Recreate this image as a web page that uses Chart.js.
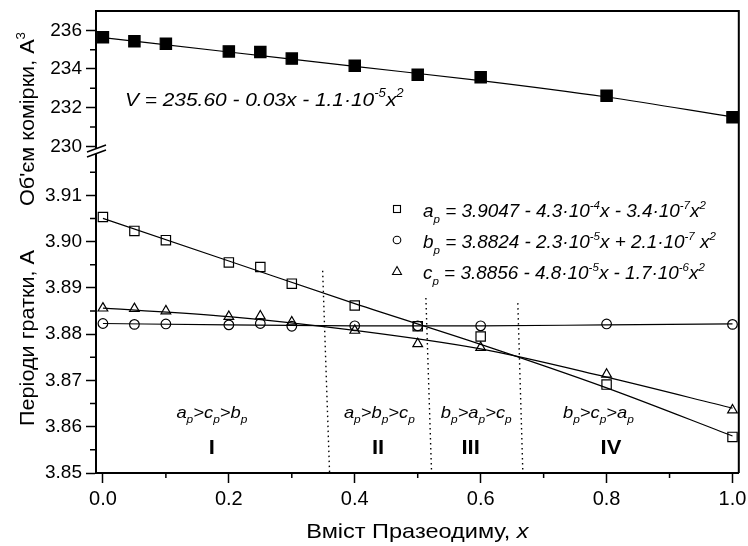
<!DOCTYPE html>
<html>
<head>
<meta charset="utf-8">
<script src="https://cdn.jsdelivr.net/npm/chart.js@4/dist/chart.umd.min.js"></script>
<style>
  html, body { margin: 0; padding: 0; background: #fff; }
</style>
</head>
<body>
<canvas id="myChart" width="748" height="546"></canvas>
<script>
// Склад (x) та виміряні значення
const xVals = [0, 0.05, 0.1, 0.2, 0.25, 0.3, 0.4, 0.5, 0.6, 0.8, 1.0];
const volume = [235.64, 235.43, 235.31, 234.91, 234.88, 234.54, 234.17, 233.70, 233.57, 232.62, 231.50];
const aP = [3.9053, 3.9023, 3.9003, 3.8955, 3.8945, 3.8909, 3.8862, 3.8817, 3.8795, 3.8691, 3.8578];
const bP = [3.8823, 3.8821, 3.8822, 3.8820, 3.8823, 3.8817, 3.8818, 3.8818, 3.8818, 3.8822, 3.8821];
const cP = [3.8856, 3.8855, 3.8850, 3.8838, 3.8839, 3.8826, 3.8808, 3.8779, 3.8771, 3.8713, 3.8636];

// Апроксимаційні криві
const fitX = [0, 0.2, 0.4, 0.6, 0.8, 1.0];
const fitV = [235.62, 234.88, 234.13, 233.40, 232.55, 231.52];
const fitA = [3.9050, 3.8958, 3.8866, 3.8778, 3.8684, 3.8580];
const fitB = [3.8823, 3.8820, 3.8818, 3.8818, 3.8820, 3.8822];
const fitC = [3.8856, 3.8838, 3.8808, 3.8768, 3.8707, 3.8640];

// Межі областей (пунктир)
const boundTopX = [0.349, 0.513, 0.659];
const boundTopY = [3.8937, 3.8878, 3.8867];
const boundBotX = [0.360, 0.522, 0.667];

// Області
const regionNames = ['I', 'II', 'III', 'IV'];
const regionOrder = [['a', 'c', 'b'], ['a', 'b', 'c'], ['b', 'a', 'c'], ['b', 'c', 'a']];

// Підписи осей
const xTicks = [0, 0.2, 0.4, 0.6, 0.8, 1.0];
const xMinor = [0.1, 0.3, 0.5, 0.7, 0.9];
const vTicks = [230, 232, 234, 236];
const vMinor = [231, 233, 235];
const pTicks = [3.85, 3.86, 3.87, 3.88, 3.89, 3.90, 3.91];
const pMinor = [3.855, 3.865, 3.875, 3.885, 3.895, 3.905, 3.915];

const FAM = '"Liberation Sans", Arial, sans-serif';

const pts = ys => xVals.map((x, i) => ({ x: x, y: ys[i] }));
const fitPts = ys => fitX.map((x, i) => ({ x: x, y: ys[i] }));

function fitLine(ys, axis) {
    return {
        data: fitPts(ys), yAxisID: axis, showLine: true, pointRadius: 0,
        borderColor: '#000', borderWidth: 1.2, tension: 0.4, cubicInterpolationMode: 'monotone'
    };
}

function markers(ys, axis, style, r, fill) {
    return {
        data: pts(ys), yAxisID: axis, showLine: false, pointStyle: style, pointRadius: r,
        borderColor: '#000', pointBorderWidth: 1.2, backgroundColor: fill
    };
}

const datasets = [
    fitLine(fitV, 'yTop'),
    fitLine(fitA, 'yBot'),
    fitLine(fitB, 'yBot'),
    fitLine(fitC, 'yBot'),
    markers(volume, 'yTop', 'rect', 8, '#000'),
    markers(aP, 'yBot', 'rect', 6.6, 'rgba(0,0,0,0)'),
    markers(bP, 'yBot', 'circle', 4.8, 'rgba(0,0,0,0)'),
    markers(cP, 'yBot', 'triangle', 5.6, 'rgba(0,0,0,0)')
];

boundTopX.forEach((x, i) => {
    datasets.push({
        data: [{ x: x, y: boundTopY[i] }, { x: boundBotX[i], y: 3.85 }],
        yAxisID: 'yBot', showLine: true, pointRadius: 0,
        borderColor: '#000', borderWidth: 1.4, borderDash: [1.5, 3.5]
    });
});

// Текст із індексами: parts = [[текст, 'n'|'sub'|'sup', стиль]]
function drawRich(c, parts, x, y, size, style, align, stretch) {
    const k = stretch || 1;
    const small = Math.round(size * 0.62);
    const fontOf = p => (p[2] || style) + ' ' + (p[1] === 'n' ? size : small) + 'px ' + FAM;
    let w = 0;
    parts.forEach(p => { c.font = fontOf(p); w += c.measureText(p[0]).width; });
    c.save();
    c.translate(x, y);
    c.scale(k, 1);
    let cx = align === 'center' ? -w / 2 : 0;
    c.textAlign = 'left';
    c.textBaseline = 'alphabetic';
    parts.forEach(p => {
        c.font = fontOf(p);
        const dy = p[1] === 'sub' ? size * 0.32 : p[1] === 'sup' ? -size * 0.45 : 0;
        c.fillText(p[0], cx, dy);
        cx += c.measureText(p[0]).width;
    });
    c.restore();
}

const decor = {
    id: 'decor',
    afterDraw(chart) {
        const c = chart.ctx;
        const a = chart.chartArea;
        const sx = chart.scales.x, st = chart.scales.yTop, sb = chart.scales.yBot;
        c.save();
        c.strokeStyle = '#000';
        c.fillStyle = '#000';

        // рамка
        c.lineWidth = 2;
        c.beginPath();
        c.moveTo(a.left - 1, a.top);
        c.lineTo(a.right, a.top);
        c.lineTo(a.right, a.bottom);
        c.stroke();

        // дрібні поділки
        c.lineWidth = 1.5;
        c.beginPath();
        xMinor.forEach(v => { const p = sx.getPixelForValue(v); c.moveTo(p, a.bottom); c.lineTo(p, a.bottom + 5); });
        vMinor.forEach(v => { const p = st.getPixelForValue(v); c.moveTo(a.left, p); c.lineTo(a.left - 6, p); });
        pMinor.forEach(v => { const p = sb.getPixelForValue(v); c.moveTo(a.left, p); c.lineTo(a.left - 6, p); });
        c.stroke();

        // розрив осі
        const yb = st.bottom;
        c.fillStyle = '#fff';
        c.beginPath();
        c.moveTo(a.left - 9, yb + 3);
        c.lineTo(a.left + 10, yb - 4);
        c.lineTo(a.left + 10, yb + 1);
        c.lineTo(a.left - 9, yb + 8);
        c.closePath();
        c.fill();
        c.lineWidth = 1.5;
        c.beginPath();
        c.moveTo(a.left - 9, yb + 3); c.lineTo(a.left + 10, yb - 4);
        c.moveTo(a.left - 9, yb + 8); c.lineTo(a.left + 10, yb + 1);
        c.stroke();
        c.fillStyle = '#000';

        // рівняння V
        drawRich(c, [['V = 235.60 - 0.03x - 1.1·10', 'n'], ['-5', 'sup'], ['x', 'n'], ['2', 'sup']],
            sx.getPixelForValue(0.035), st.getPixelForValue(232.1), 19, 'italic', 'left', 1.1);

        // легенда
        const rows = [
            [['a', 'n'], ['p', 'sub'], [' = 3.9047 - 4.3·10', 'n'], ['-4', 'sup'], ['x - 3.4·10', 'n'], ['-7', 'sup'], ['x', 'n'], ['2', 'sup']],
            [['b', 'n'], ['p', 'sub'], [' = 3.8824 - 2.3·10', 'n'], ['-5', 'sup'], ['x + 2.1·10', 'n'], ['-7', 'sup'], [' x', 'n'], ['2', 'sup']],
            [['c', 'n'], ['p', 'sub'], [' = 3.8856 - 4.8·10', 'n'], ['-5', 'sup'], ['x - 1.7·10', 'n'], ['-6', 'sup'], ['x', 'n'], ['2', 'sup']]
        ];
        const lx = 397, ly = [209, 240, 271];
        rows.forEach((r, i) => drawRich(c, r, 423, ly[i] + 8, 18, 'italic', 'left', 1.05));
        c.lineWidth = 1.1;
        c.strokeRect(lx - 3.5, ly[0] - 3.5, 7, 7);
        c.beginPath(); c.arc(lx, ly[1], 3.8, 0, Math.PI * 2); c.stroke();
        c.beginPath();
        c.moveTo(lx, ly[2] - 4.5); c.lineTo(lx + 4.5, ly[2] + 3.5); c.lineTo(lx - 4.5, ly[2] + 3.5); c.closePath();
        c.stroke();

        // області
        const orderX = [0.173, 0.439, 0.593, 0.787];
        const nameX = [0.173, 0.437, 0.584, 0.807];
        regionOrder.forEach((o, i) => {
            const parts = [[o[0], 'n'], ['p', 'sub'], ['>' + o[1], 'n'], ['p', 'sub'], ['>' + o[2], 'n'], ['p', 'sub']];
            drawRich(c, parts, sx.getPixelForValue(orderX[i]), 418, 17, 'italic', 'center', 1.08);
            drawRich(c, [[regionNames[i], 'n']], sx.getPixelForValue(nameX[i]), 454, 20, 'bold', 'center', 1.1);
        });

        // назви осей
        drawRich(c, [['Вміст Празеодиму, ', 'n', 'normal'], ['x', 'n', 'italic']], (a.left + a.right) / 2, 538, 21, 'normal', 'center', 1.12);
        c.translate(34, 119);
        c.rotate(-Math.PI / 2);
        drawRich(c, [["Об'єм комірки, А", 'n'], ['3', 'sup']], 0, 0, 21, 'normal', 'center', 1.03);
        c.rotate(Math.PI / 2);
        c.translate(0, 338 - 119);
        c.rotate(-Math.PI / 2);
        drawRich(c, [['Періоди гратки, А', 'n']], 0, 0, 21, 'normal', 'center', 1.03);
        c.restore();
    }
};

const tickFont = { family: FAM, size: 19 };
const keepTicks = list => s => { s.ticks = list.map(v => ({ value: v })); };

const ctx = document.getElementById('myChart').getContext('2d');
const myChart = new Chart(ctx, {
    type: 'scatter',
    data: { datasets: datasets },
    options: {
        responsive: false,
        animation: false,
        layout: { padding: { top: 11, right: 6, left: 0, bottom: 0 } },
        plugins: { legend: { display: false }, tooltip: { enabled: false } },
        scales: {
            x: {
                type: 'linear', min: -0.011, max: 1.01,
                afterBuildTicks: keepTicks(xTicks),
                ticks: { color: '#000', font: { family: FAM, size: 20 }, padding: 4, callback: v => v.toFixed(1) },
                grid: { drawOnChartArea: false, tickLength: 10, tickColor: '#000', tickWidth: 1.5 },
                border: { color: '#000', width: 2 },
                afterFit: s => { s.height = 73; s.paddingLeft = 0; s.paddingRight = 0; }
            },
            yTop: {
                type: 'linear', position: 'left', stack: 'y', stackWeight: 138, weight: 2,
                min: 229.86, max: 237,
                afterBuildTicks: keepTicks(vTicks),
                ticks: { color: '#000', font: tickFont, padding: 4, callback: v => v.toFixed(0) },
                grid: { drawOnChartArea: false, tickLength: 10, tickColor: '#000', tickWidth: 1.5 },
                border: { color: '#000', width: 2 },
                afterFit: s => { s.width = 96; s.paddingTop = 0; s.paddingBottom = 0; }
            },
            yBot: {
                type: 'linear', position: 'left', stack: 'y', stackWeight: 324, weight: 1,
                min: 3.85, max: 3.92,
                afterBuildTicks: keepTicks(pTicks),
                ticks: { color: '#000', font: tickFont, padding: 4, callback: v => v.toFixed(2) },
                grid: { drawOnChartArea: false, tickLength: 10, tickColor: '#000', tickWidth: 1.5 },
                border: { color: '#000', width: 2 },
                afterFit: s => { s.width = 96; s.paddingTop = 0; s.paddingBottom = 0; }
            }
        }
    },
    plugins: [decor]
});
</script>
</body>
</html>
